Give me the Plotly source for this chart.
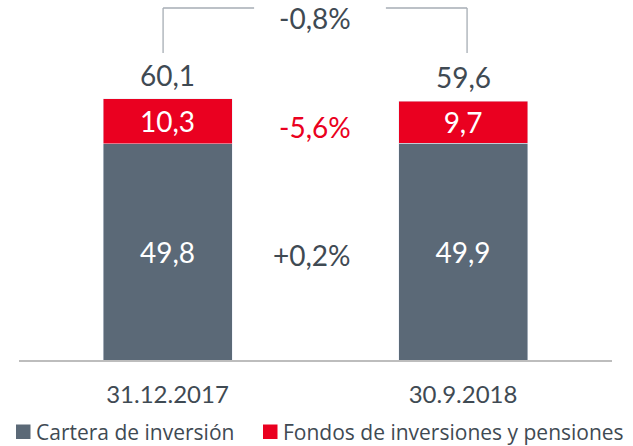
import plotly.graph_objects as go

categories = ["31.12.2017", "30.9.2018"]
series_names = ["Cartera de inversión", "Fondos de inversiones y pensiones"]
cartera = [49.8, 49.9]
fondos = [10.3, 9.7]
cartera_labels = ["49,8", "49,9"]
fondos_labels = ["10,3", "9,7"]
total_labels = ["60,1", "59,6"]
chg_total = "-0,8%"
chg_fondos = "-5,6%"
chg_cartera = "+0,2%"

GRAY = "#5b6977"
RED = "#ea0020"
TXT = "#3f4a53"
NUM = "Lato"
LEG = "Open Sans"

W, H = 633, 446
ML, MR, MT, MB = 19, 21, 0, 86
PW = W - ML - MR
PH = H - MT - MB

fig = go.Figure()
fig.add_trace(go.Bar(x=[0, 1], y=cartera, name=series_names[0], marker_color=GRAY,
                     text=cartera_labels, textposition="inside", insidetextanchor="middle",
                     textfont=dict(color="white", size=28, family=NUM), width=0.4365,
                     showlegend=False))
fig.add_trace(go.Bar(x=[0, 1], y=fondos, name=series_names[1], marker_color=RED,
                     text=fondos_labels, textposition="inside", insidetextanchor="middle",
                     textfont=dict(color="white", size=28, family=NUM), width=0.4365,
                     showlegend=False))

totals = [a + b for a, b in zip(cartera, fondos)]
for i, (t, lab) in enumerate(zip(totals, total_labels)):
    fig.add_annotation(x=i, y=t, text=lab, showarrow=False, yanchor="middle", yshift=24,
                       font=dict(size=28, color=TXT, family=NUM))

mid = 0.5
fig.add_annotation(x=mid, y=cartera[0] / 2, text=chg_cartera, showarrow=False,
                   font=dict(size=28, color=TXT, family=NUM), xshift=-3, yshift=-3)
fig.add_annotation(x=mid, y=cartera[0] + fondos[0] / 2, text=chg_fondos, showarrow=False,
                   font=dict(size=28, color=RED, family=NUM), yshift=-6)

# bracket connecting the two totals
ytop = 81.05
ylow = 70.7
lc = dict(color="#a6adb4", width=1.3)
fig.add_shape(type="line", x0=-0.015, x1=-0.015, y0=ylow, y1=ytop, line=lc)
fig.add_shape(type="line", x0=-0.015, x1=0.293, y0=ytop, y1=ytop, line=lc)
fig.add_shape(type="line", x0=0.739, x1=1.0136, y0=ytop, y1=ytop, line=lc)
fig.add_shape(type="line", x0=1.0136, x1=1.0136, y0=ylow, y1=ytop, line=lc)
fig.add_annotation(x=mid, y=ytop, text=chg_total, showarrow=False, yanchor="middle", yshift=-10,
                   font=dict(size=28, color=TXT, family=NUM))

# manual legend (pixel positions converted to paper coords)
def px(x):
    return (x - ML) / PW

def py(y):
    return (H - MB - y) / PH

legend_items = [(16, GRAY, series_names[0]), (263, RED, series_names[1])]
for x0, col, name in legend_items:
    fig.add_shape(type="rect", xref="paper", yref="paper", x0=px(x0), x1=px(x0 + 14.5),
                  y0=py(439), y1=py(424.5), fillcolor=col, line=dict(width=0))
    fig.add_annotation(xref="paper", yref="paper", x=px(x0 + 18), y=py(431.5), text=name,
                       showarrow=False, xanchor="left", yanchor="middle",
                       font=dict(size=21, color=TXT, family=LEG))

fig.update_layout(
    barmode="stack",
    width=W, height=H,
    margin=dict(l=ML, r=MR, t=MT, b=MB),
    paper_bgcolor="white", plot_bgcolor="white",
    showlegend=False,
)
fig.update_xaxes(range=[-0.5025, 1.504], tickvals=[0, 1], ticktext=categories,
                 showgrid=False, zeroline=False, showline=True, linecolor="#bdbdbd", linewidth=1.5,
                 ticks="", tickfont=dict(size=24, color=TXT, family=NUM), ticklabelstandoff=12)
fig.update_yaxes(range=[0, PH / 4.343], visible=False, showgrid=False, zeroline=False)

fig.write_html("out.html", config={"displayModeBar": False},
               post_script="document.body.style.margin='0';document.body.style.overflow='hidden';")
